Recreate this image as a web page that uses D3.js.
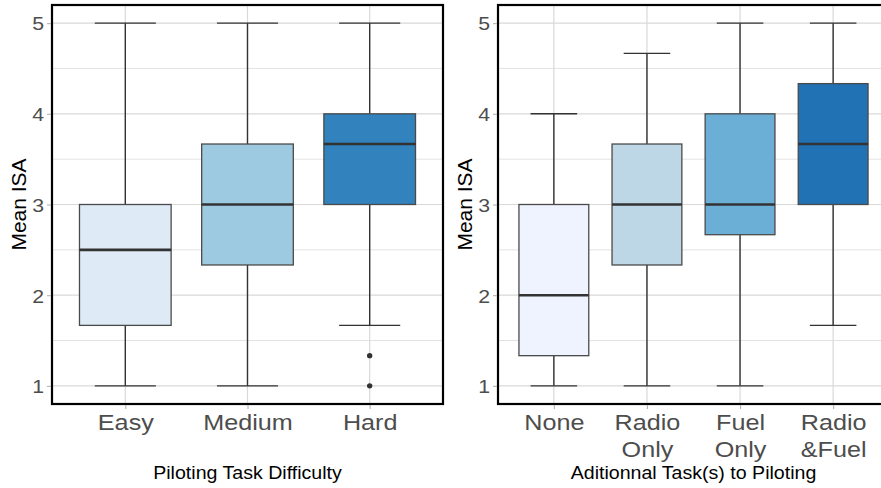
<!DOCTYPE html>
<html>
<head>
<meta charset="utf-8">
<script src="https://cdn.jsdelivr.net/npm/d3@7"></script>
<style>
  html, body { margin: 0; padding: 0; background: #ffffff; }
  svg { display: block; font-family: "Liberation Sans", Arial, sans-serif; }
</style>
</head>
<body>
<svg id="chart" width="881" height="488"></svg>
<script>
// ---------- data ----------
const leftCategories = ["Easy", "Medium", "Hard"];
const leftLow    = [1, 1, 1.667];
const leftQ1     = [1.667, 2.333, 3];
const leftMedian = [2.5, 3, 3.667];
const leftQ3     = [3, 3.667, 4];
const leftHigh   = [5, 5, 5];
const leftOutliers = [[], [], [1.333, 1]];
const leftColors = ["#deebf7", "#9ecae1", "#3182bd"];
const leftXTitle = "Piloting Task Difficulty";

const rightCategories = ["None", "Radio\nOnly", "Fuel\nOnly", "Radio\n&Fuel"];
const rightLow    = [1, 1, 1, 1.667];
const rightQ1     = [1.333, 2.333, 2.667, 3];
const rightMedian = [2, 3, 3, 3.667];
const rightQ3     = [3, 3.667, 4, 4.333];
const rightHigh   = [4, 4.667, 5, 5];
const rightOutliers = [[], [], [], []];
const rightColors = ["#eff3ff", "#bdd7e7", "#6baed6", "#2171b5"];
const rightXTitle = "Aditionnal Task(s) to Piloting";

const yTicks = [1, 2, 3, 4, 5];
const yMinorTicks = [1.5, 2.5, 3.5, 4.5];
const yTitle = "Mean ISA";

// ---------- drawing ----------
const svg = d3.select("#chart");
const SX = 1.12; // horizontal text stretch seen in the reference

function panel(offsetX, cats, low, q1, med, q3, high, outl, colors, xTitle) {
  const L = offsetX + 52, R = offsetX + 443, T = 5, B = 404;
  const g = svg.append("g");
  const x = d3.scalePoint().domain(cats).range([L, R]).padding(0.6);
  const y = d3.scaleLinear().domain([0.8, 5.2]).range([B, T]);
  const step = x.step();

  // grid
  const grid = g.append("g");
  grid.selectAll("line.minor").data(yMinorTicks).join("line")
    .attr("x1", L).attr("x2", R).attr("y1", d => y(d)).attr("y2", d => y(d))
    .attr("stroke", "#e0e0e0").attr("stroke-width", 0.9);
  grid.selectAll("line.major").data(yTicks).join("line")
    .attr("x1", L).attr("x2", R).attr("y1", d => y(d)).attr("y2", d => y(d))
    .attr("stroke", "#d9d9d9").attr("stroke-width", 1.2);
  grid.selectAll("line.vmajor").data(cats).join("line")
    .attr("x1", d => x(d)).attr("x2", d => x(d)).attr("y1", T).attr("y2", B)
    .attr("stroke", "#d9d9d9").attr("stroke-width", 1.2);

  const rows = cats.map((c, i) => ({c, i, low: low[i], q1: q1[i], med: med[i], q3: q3[i], high: high[i], out: outl[i], col: colors[i]}));
  const boxes = g.append("g");
  const bw = step * 0.75, cw = step * 0.5;
  rows.forEach(r => {
    const cx = x(r.c);
    const s = boxes.append("g");
    // whiskers
    s.append("line").attr("x1", cx).attr("x2", cx).attr("y1", y(r.q3)).attr("y2", y(r.high))
      .attr("stroke", "#333").attr("stroke-width", 1.4);
    s.append("line").attr("x1", cx).attr("x2", cx).attr("y1", y(r.q1)).attr("y2", y(r.low))
      .attr("stroke", "#333").attr("stroke-width", 1.4);
    // caps
    [r.low, r.high].forEach(v => {
      s.append("line").attr("x1", cx - cw / 2).attr("x2", cx + cw / 2).attr("y1", y(v)).attr("y2", y(v))
        .attr("stroke", "#333").attr("stroke-width", 1.4);
    });
    // box
    s.append("rect").attr("x", cx - bw / 2).attr("width", bw)
      .attr("y", y(r.q3)).attr("height", y(r.q1) - y(r.q3))
      .attr("fill", r.col).attr("stroke", "#4a4a4a").attr("stroke-width", 1.3);
    s.append("line").attr("x1", cx - bw / 2).attr("x2", cx + bw / 2).attr("y1", y(r.med)).attr("y2", y(r.med))
      .attr("stroke", "#333").attr("stroke-width", 2.6);
    s.selectAll("circle").data(r.out).join("circle")
      .attr("cx", cx).attr("cy", d => y(d)).attr("r", 2.7).attr("fill", "#333");
  });

  // panel border
  g.append("rect").attr("x", L).attr("y", T).attr("width", R - L).attr("height", B - T)
    .attr("fill", "none").attr("stroke", "#000").attr("stroke-width", 2.2);

  // y axis
  const ya = g.append("g").attr("transform", `translate(${L - 1},0)`)
    .call(d3.axisLeft(y).tickValues(yTicks).tickSize(4).tickPadding(3).tickFormat(d3.format("d")));
  ya.select(".domain").remove();
  ya.selectAll(".tick line").attr("stroke", "#b3b3b3").attr("stroke-width", 1.1);
  ya.selectAll(".tick text")
    .attr("x", -7 / SX).attr("dy", "0.36em")
    .attr("transform", `scale(${SX},1)`)
    .attr("font-size", 19).attr("fill", "#4d4d4d")
    .attr("font-family", "Liberation Sans, Arial, sans-serif");

  // x axis
  const xa = g.append("g").attr("transform", `translate(0,${B + 1})`)
    .call(d3.axisBottom(x).tickSize(4).tickFormat(""));
  xa.select(".domain").remove();
  xa.selectAll(".tick line").attr("stroke", "#b3b3b3").attr("stroke-width", 1.1);
  xa.selectAll(".tick").each(function(d) {
    const t = d3.select(this).append("text")
      .attr("transform", `translate(0,24.5) scale(${SX},1)`)
      .attr("text-anchor", "middle").attr("font-size", 22.5).attr("fill", "#4d4d4d")
      .attr("font-family", "Liberation Sans, Arial, sans-serif");
    d.split("\n").forEach((line, k) => {
      t.append("tspan").attr("x", 0).attr("y", k * 27.5).text(line);
    });
  });

  // x title
  svg.append("text")
    .attr("transform", `translate(${(L + R) / 2},479) scale(${SX},1)`)
    .attr("text-anchor", "middle").attr("font-size", 17.5).attr("fill", "#000")
    .text(xTitle);

  // y title
  svg.append("text")
    .attr("transform", `translate(${offsetX + 26},${(T + B) / 2}) rotate(-90)`)
    .attr("text-anchor", "middle").attr("font-size", 21).attr("fill", "#000")
    .text(yTitle);
}

panel(0, leftCategories, leftLow, leftQ1, leftMedian, leftQ3, leftHigh, leftOutliers, leftColors, leftXTitle);
panel(446, rightCategories, rightLow, rightQ1, rightMedian, rightQ3, rightHigh, rightOutliers, rightColors, rightXTitle);
</script>
</body>
</html>
